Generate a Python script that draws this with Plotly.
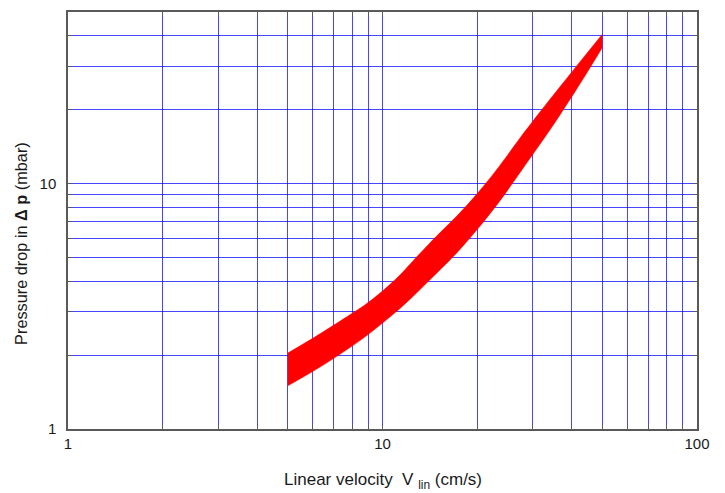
import plotly.graph_objects as go

# Data
velocity = [5, 7, 10, 14, 20, 30, 40, 50]              # cm/s
dp_low = [1.5, 1.94, 2.7, 4.0, 6.5, 13.1, 22.6, 35.8]   # mbar, lower edge of band
dp_high = [2.04, 2.65, 3.65, 5.65, 9.1, 17.9, 28.5, 40.6] # mbar, upper edge of band

x_grid = [1, 2, 3, 4, 5, 6, 7, 8, 9, 10, 20, 30, 40, 50, 60, 70, 80, 90, 100]
x_labels = {1: "1", 10: "10", 100: "100"}
y_grid = [1, 2, 3, 4, 5, 6, 7, 8, 9, 10, 20, 30, 40]
y_labels = {1: "1", 10: "10"}

FONT = "Liberation Sans, Arial, sans-serif"
TEXT = "#1a1a1a"
GRID = "rgba(0,0,255,0.72)"
AXIS = "#5a5a5a"

fig = go.Figure()
fig.add_trace(go.Scatter(
    x=velocity, y=dp_low, mode="lines",
    line=dict(color="#ff0000", width=0.5, shape="spline", smoothing=1.3),
    hoverinfo="skip", showlegend=False,
))
fig.add_trace(go.Scatter(
    x=velocity, y=dp_high, mode="lines", fill="tonexty", fillcolor="#ff0000",
    line=dict(color="#ff0000", width=0.5, shape="spline", smoothing=1.3),
    hoverinfo="skip", showlegend=False,
))

fig.update_layout(
    width=725, height=493,
    margin=dict(l=68, r=28, t=10, b=64),
    paper_bgcolor="white", plot_bgcolor="white",
    font=dict(family=FONT, size=15, color=TEXT),
    showlegend=False,
)
fig.update_xaxes(
    type="log", range=[0, 2],
    tickvals=x_grid, ticktext=[x_labels.get(v, "") for v in x_grid],
    showgrid=True, gridcolor=GRID, gridwidth=1.4,
    showline=True, linecolor=AXIS, linewidth=1.5, mirror="ticks",
    ticks="inside", ticklen=4, tickcolor=AXIS,
    tickfont=dict(size=15, color=TEXT), zeroline=False,
)
fig.update_yaxes(
    type="log", range=[0, 1.69897],
    tickvals=y_grid, ticktext=[y_labels.get(v, "") for v in y_grid],
    showgrid=True, gridcolor=GRID, gridwidth=1.4,
    showline=True, linecolor=AXIS, linewidth=1.5, mirror="ticks",
    ticks="inside", ticklen=4, tickcolor=AXIS, ticklabelstandoff=7,
    tickfont=dict(size=15, color=TEXT), zeroline=False,
)

fig.add_annotation(
    text=("Linear velocity&nbsp;&nbsp;V&nbsp;<sub><span style='color:#1a1a1a'>lin</span></sub>"
          "&nbsp;(cm/s)"),
    xref="paper", yref="paper", x=0.5, y=-0.124, yanchor="middle",
    showarrow=False, font=dict(size=17, family=FONT, color=TEXT),
)
fig.add_annotation(
    text="Pressure drop in <b>Δ p</b> (mbar)",
    xref="paper", yref="paper", x=-0.074, y=0.445, xanchor="center", yanchor="middle",
    textangle=-90, showarrow=False, font=dict(size=16.3, family=FONT, color=TEXT),
)

fig.write_html("out.html", config={"displayModeBar": False})

# remove the default page margin so the figure sits at the window's top-left corner
with open("out.html", "r", encoding="utf-8") as f:
    html = f.read()
html = html.replace("<head>", "<head><style>html,body{margin:0;padding:0;overflow:hidden;}</style>", 1)
with open("out.html", "w", encoding="utf-8") as f:
    f.write(html)
